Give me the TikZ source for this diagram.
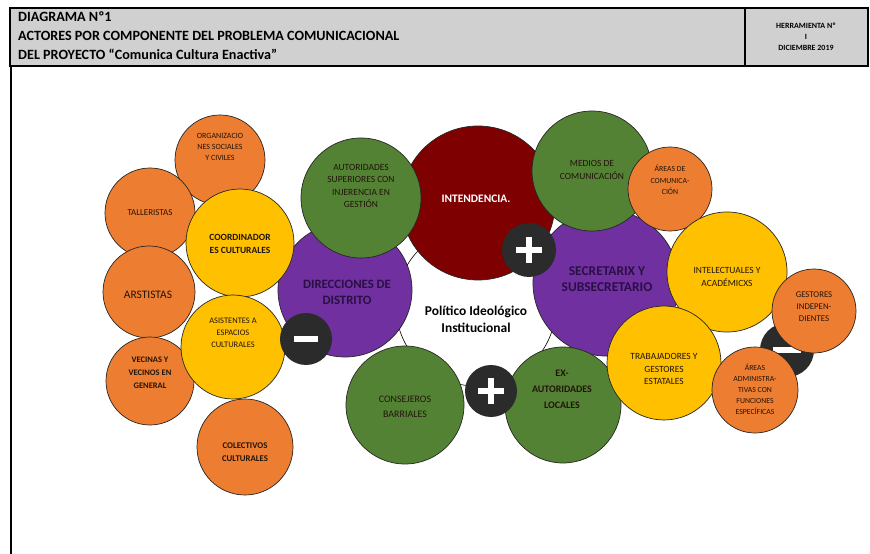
\documentclass[tikz,border=0pt]{standalone}
\usepackage{fontspec}
\setmainfont{Carlito}
\newcommand\myfs[2]{\fontsize{#1}{#2}\selectfont}
\definecolor{corange}{HTML}{ED7D31}
\definecolor{cyellow}{HTML}{FFC000}
\definecolor{cgreen}{HTML}{548235}
\definecolor{cred}{HTML}{7F0000}
\definecolor{cpurple}{HTML}{7030A0}
\definecolor{csign}{HTML}{2B2B2B}
\definecolor{cheader}{HTML}{D0D0D0}
\definecolor{ctext}{HTML}{22140A}
\definecolor{cptext}{HTML}{2A0F45}
\tikzset{
  bub/.style={circle, draw=black!85, line width=0.7bp, inner sep=0pt, minimum size=#1},
  ob/.style={bub=#1, fill=corange},
  yb/.style={bub=#1, fill=cyellow},
  gb/.style={bub=#1, fill=cgreen},
  pb/.style={bub=#1, fill=cpurple},
  rb/.style={bub=#1, fill=cred},
  sb/.style={circle, fill=csign, inner sep=0pt, minimum size=#1},
  bar/.style={white, line width=6bp},
  lbl/.style={align=center, inner sep=0pt, text=ctext},
  hdr/.style={anchor=west, inner sep=0pt, font=\myfs{14.2}{15}\bfseries},
}
\begin{document}
\begin{tikzpicture}[x=1bp, y=-1bp]
\useasboundingbox (0,0) rectangle (870,554);
% header
\draw[line width=2bp, fill=cheader] (10,8) rectangle (868,66);
\draw[line width=2bp] (745,8) -- (745,66);
\draw[line width=2bp] (11,66) -- (11,554);
\node[hdr] (h1) at (18,17) {DIAGRAMA Nº1};
\node[hdr] (h2) at (18,36) {ACTORES POR COMPONENTE DEL PROBLEMA COMUNICACIONAL};
\node[hdr] (h3) at (18,54) {DEL PROYECTO “Comunica Cultura Enactiva”};
\node[align=center, inner sep=0pt, font=\myfs{8}{11}\bfseries] (h4) at (806,37) {HERRAMIENTA Nº\\I\\DICIEMBRE 2019};

% central circle
\node[circle, draw=black, line width=0.6bp, fill=white, minimum size=160bp] (core) at (476,306) {};

% big circles
\node[rb=154bp] (int) at (478,203) {};
\node[pb=134bp] (dir) at (345,290) {};
\node[pb=146bp] (sec) at (606,283) {};
\node[gb=120bp] (aut) at (361,198) {};
\node[gb=120bp] (med) at (592,171) {};
\node[ob=84bp] (acom) at (670,189) {};

% left cluster
\node[ob=90bp] (org) at (220,160) {};
\node[ob=90bp] (tal) at (150,213) {};
\node[ob=92bp] (ars) at (149,292) {};
\node[ob=88bp] (vec) at (150,381) {};
\node[yb=108bp] (coo) at (240,243) {};
\node[yb=104bp] (asi) at (233,347) {};
\node[ob=96bp] (col) at (245,447) {};

% bottom greens
\node[gb=118bp] (con) at (405,405) {};
\node[gb=116bp] (exa) at (563,405) {};

% right cluster
\node[yb=120bp] (intl) at (727,272) {};
\node[yb=114bp] (tra) at (664,363) {};
\node[sb=54bp] (m2) at (787,350) {};
\draw[bar] ([xshift=-14bp]m2.center) -- ([xshift=14bp]m2.center);
\node[ob=84bp] (ges) at (814,311) {};
\node[ob=86bp] (aad) at (755,390) {};

% signs
\node[sb=54bp] (p1) at (529,250) {};
\draw[bar] ([xshift=-13bp]p1.center) -- ([xshift=13bp]p1.center);
\draw[bar] ([yshift=-13bp]p1.center) -- ([yshift=13bp]p1.center);
\node[sb=52bp] (p2) at (491,391) {};
\draw[bar] ([xshift=-13bp]p2.center) -- ([xshift=13bp]p2.center);
\draw[bar] ([yshift=-13bp]p2.center) -- ([yshift=13bp]p2.center);
\node[sb=52bp] (m1) at (306,339) {};
\draw[bar] ([xshift=-12bp]m1.center) -- ([xshift=12bp]m1.center);

% labels
\node[lbl, font=\myfs{8}{11}] (torg) at (220,147) {ORGANIZACIO\\NES SOCIALES\\Y CIVILES};
\node[lbl, font=\myfs{9}{12}] (ttal) at (150,213) {TALLERISTAS};
\node[lbl, font=\myfs{9.5}{13}\bfseries] (tcoo) at (240,244) {COORDINADOR\\ES CULTURALES};
\node[lbl, font=\myfs{11.5}{13}] (tars) at (148,295) {ARSTISTAS};
\node[lbl, font=\myfs{8.5}{12}] (tasi) at (233,333) {ASISTENTES A\\ESPACIOS\\CULTURALES};
\node[lbl, font=\myfs{8.5}{13}\bfseries] (tvec) at (150,373) {VECINAS Y\\VECINOS EN\\GENERAL};
\node[lbl, font=\myfs{8.8}{12.5}\bfseries] (tcol) at (245,452) {COLECTIVOS\\CULTURALES};
\node[lbl, text=cptext, font=\myfs{12.8}{16}\bfseries] (tdir) at (347,292) {DIRECCIONES DE\\DISTRITO};
\node[lbl, font=\myfs{9.5}{12.3}] (taut) at (361,186) {AUTORIDADES\\SUPERIORES CON\\INJERENCIA EN\\GESTIÓN};
\node[lbl, text=white, font=\myfs{11.5}{12}\bfseries] (tint) at (476,199) {INTENDENCIA.};
\node[lbl, font=\myfs{9.5}{13}] (tmed) at (592,170) {MEDIOS DE\\COMUNICACIÓN};
\node[lbl, font=\myfs{7.8}{11.5}] (tacom) at (670,180) {ÁREAS DE\\COMUNICA-\\CIÓN};
\node[lbl, text=cptext, font=\myfs{13.5}{16}\bfseries] (tsec) at (607,279) {SECRETARIX Y\\SUBSECRETARIO};
\node[lbl, text=black, font=\myfs{13.5}{17}\bfseries] (tcore) at (476,319) {Político Ideológico\\Institucional};
\node[lbl, font=\myfs{9.5}{13}] (tintl) at (727,277) {INTELECTUALES Y\\ACADÉMICXS};
\node[lbl, font=\myfs{8.8}{12}] (tges) at (814,307) {GESTORES\\INDEPEN-\\DIENTES};
\node[lbl, font=\myfs{9.5}{12.3}] (ttra) at (664,369) {TRABAJADORES Y\\GESTORES\\ESTATALES};
\node[lbl, font=\myfs{7.8}{11}] (taad) at (755,389) {ÁREAS\\ADMINISTRA-\\TIVAS CON\\FUNCIONES\\ESPECÍFICAS};
\node[lbl, font=\myfs{10}{16}\bfseries] (texa) at (562,389) {EX-\\AUTORIDADES\\LOCALES};
\node[lbl, font=\myfs{10}{15}] (tcon) at (405,407) {CONSEJEROS\\BARRIALES};
\end{tikzpicture}
\end{document}
